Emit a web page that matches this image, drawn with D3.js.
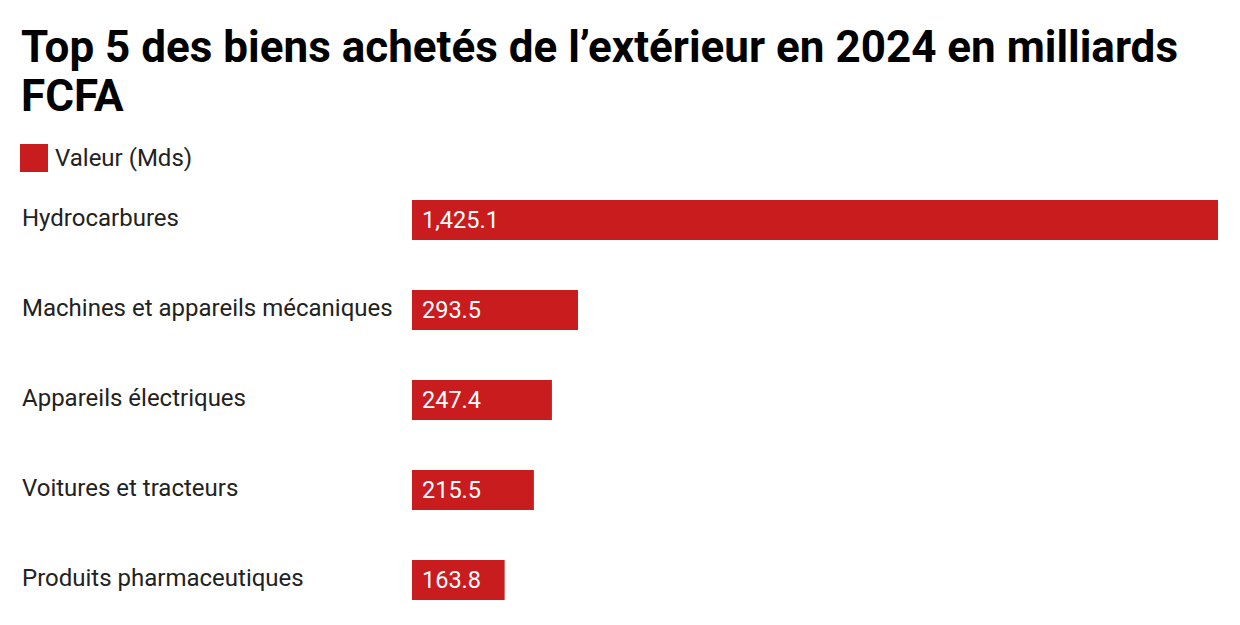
<!DOCTYPE html>
<html>
<head>
<meta charset="utf-8">
<script src="https://cdn.jsdelivr.net/npm/d3@7"></script>
<style>
  body { margin: 0; background: #fff; font-family: Roboto, sans-serif; }
</style>
</head>
<body>
<div id="chart"></div>
<script>
const categories = ["Hydrocarbures", "Machines et appareils mécaniques", "Appareils électriques", "Voitures et tracteurs", "Produits pharmaceutiques"];
const values = [1425.1, 293.5, 247.4, 215.5, 163.8];
const titleLines = ["Top 5 des biens achetés de l’extérieur en 2024 en milliards", "FCFA"];
const legendLabel = "Valeur (Mds)";

const width = 1240, height = 625;
const color = "#c91c1f";

const svg = d3.select("#chart").append("svg")
    .attr("width", width)
    .attr("height", height);

svg.selectAll("text.title")
    .data(titleLines)
    .join("text")
    .attr("class", "title")
    .attr("x", 21)
    .attr("y", (d, i) => 62 + i * 49)
    .attr("font-size", 44)
    .attr("font-weight", 700)
    .attr("fill", "#000")
    .text(d => d);

svg.append("rect")
    .attr("x", 20).attr("y", 144)
    .attr("width", 28).attr("height", 28)
    .attr("fill", color);
svg.append("text")
    .attr("x", 55).attr("y", 166)
    .attr("font-size", 24)
    .attr("fill", "#222")
    .text(legendLabel);

const x = d3.scaleLinear()
    .domain([0, d3.max(values)])
    .range([412, 1218]);

// step 90, bar 40
const y = d3.scaleBand()
    .domain(categories)
    .range([200, 600])
    .paddingInner(50 / 90)
    .paddingOuter(0);

const rows = svg.append("g").selectAll("g")
    .data(categories)
    .join("g");

rows.append("text")
    .attr("x", 22)
    .attr("y", d => y(d) + 26)
    .attr("font-size", 24)
    .attr("fill", "#222")
    .text(d => d);

rows.append("rect")
    .attr("x", x(0))
    .attr("y", d => y(d))
    .attr("width", (d, i) => x(values[i]) - x(0))
    .attr("height", y.bandwidth())
    .attr("fill", color);

rows.append("text")
    .attr("x", x(0) + 10)
    .attr("y", d => y(d) + 28)
    .attr("font-size", 23.5)
    .attr("fill", "#fff")
    .text((d, i) => d3.format(",.1f")(values[i]));
</script>
</body>
</html>
